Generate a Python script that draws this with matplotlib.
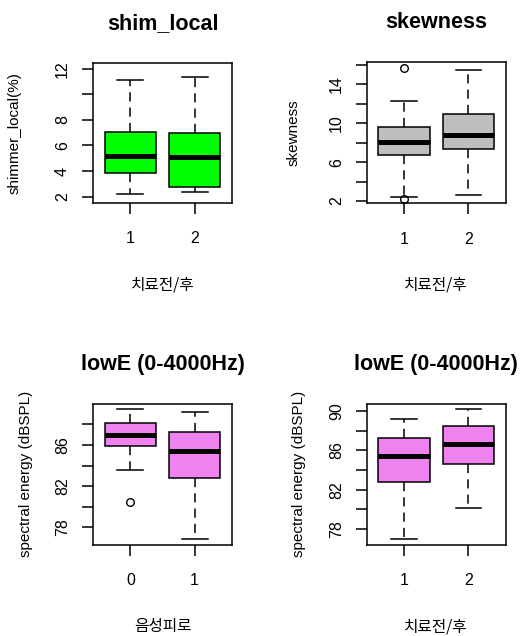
import matplotlib
matplotlib.use("Agg")
import matplotlib.pyplot as plt

plt.rcParams['font.family'] = ['Liberation Sans', 'DejaVu Sans']

# 값 (그림에서 읽은 상자그림 통계: 아래수염, Q1, 중앙값, Q3, 위수염, 이상치)
shim_whislo = [2.23, 2.33]
shim_q1 = [3.85, 2.74]
shim_med = [5.2, 5.1]
shim_q3 = [7.05, 6.95]
shim_whishi = [11.15, 11.35]
shim_fliers = [[], []]

skew_whislo = [2.44, 2.58]
skew_q1 = [6.7, 7.31]
skew_med = [8.06, 8.75]
skew_q3 = [9.6, 10.98]
skew_whishi = [12.28, 15.47]
skew_fliers = [[15.65, 2.24], []]

lowe_fat_whislo = [83.54, 76.84]
lowe_fat_q1 = [85.87, 82.76]
lowe_fat_med = [86.94, 85.45]
lowe_fat_q3 = [88.08, 87.26]
lowe_fat_whishi = [89.47, 89.15]
lowe_fat_fliers = [[80.5], []]

lowe_trt_whislo = [76.94, 80.1]
lowe_trt_q1 = [82.77, 84.6]
lowe_trt_med = [85.47, 86.7]
lowe_trt_q3 = [87.27, 88.47]
lowe_trt_whishi = [89.25, 90.2]
lowe_trt_fliers = [[], []]

grp_trt = ['1', '2']
grp_fat = ['0', '1']


def make_stats(lo, q1, med, q3, hi, fl):
    return [dict(whislo=lo[i], q1=q1[i], med=med[i], q3=q3[i], whishi=hi[i], fliers=fl[i])
            for i in range(len(med))]


W, H = 520, 636
fig = plt.figure(figsize=(W / 100, H / 100), dpi=100)


def panel(px_left, px_top, px_w, px_h, stats, color, title, ylabel, xlabel, xtl,
          ylim, yticks, ylabels, ylab_dx):
    ax = fig.add_axes([px_left / W, 1 - (px_top + px_h) / H, px_w / W, px_h / H])
    ax.bxp(stats, positions=[1, 2], widths=0.8, capwidths=0.4, patch_artist=True,
           boxprops=dict(facecolor=color, edgecolor='black', linewidth=1.1),
           medianprops=dict(color='black', linewidth=3.6, solid_capstyle='butt'),
           whiskerprops=dict(color='black', linewidth=1.1, linestyle=(0, (6, 4))),
           capprops=dict(color='black', linewidth=1.1),
           flierprops=dict(marker='o', markerfacecolor='none', markeredgecolor='black',
                           markersize=5.5, markeredgewidth=1.0))
    ax.set_xlim(0.42, 2.58)
    ax.set_ylim(*ylim)
    ax.set_xticks([1, 2])
    ax.set_xticklabels(xtl)
    ax.set_yticks(yticks)
    ax.set_yticklabels(ylabels)
    for s in ax.spines.values():
        s.set_linewidth(1.1)
    ax.tick_params(axis='both', length=8, width=1.1, labelsize=11.5, color='black')
    ax.tick_params(axis='x', pad=12.5)
    ax.tick_params(axis='y', pad=8.5)
    plt.setp(ax.get_yticklabels(), rotation=90, va='center')
    ax.set_title(title, fontsize=15.5, fontweight='bold', pad=24.5)
    ax.set_ylabel(ylabel, fontsize=11, va='center')
    ax.yaxis.set_label_coords(ylab_dx / px_w, 0.5)
    ax.set_xlabel(xlabel, fontsize=11.3, family=['Noto Sans CJK KR', 'DejaVu Sans'], va='center')
    ax.xaxis.set_label_coords(0.5, -82 / px_h)
    return ax


panel(93, 63, 139, 140,
      make_stats(shim_whislo, shim_q1, shim_med, shim_q3, shim_whishi, shim_fliers),
      '#00FF00', 'shim_local', 'shimmer_local(%)', '치료전/후', grp_trt,
      (1.5, 12.45), [2, 4, 6, 8, 10, 12], ['2', '4', '6', '8', '', '12'], -78)

panel(366.7, 62.3, 139, 141,
      make_stats(skew_whislo, skew_q1, skew_med, skew_q3, skew_whishi, skew_fliers),
      '#BEBEBE', 'skewness', 'skewness', '치료전/후', grp_trt,
      (1.76, 16.26), [2, 4, 6, 8, 10, 12, 14, 16], ['2', '', '6', '', '10', '', '14', ''], -73)

panel(93, 404, 139, 140.7,
      make_stats(lowe_fat_whislo, lowe_fat_q1, lowe_fat_med, lowe_fat_q3, lowe_fat_whishi, lowe_fat_fliers),
      '#EE82EE', 'lowE (0-4000Hz)', 'spectral energy (dBSPL)', '음성피로', grp_fat,
      (76.33, 89.97), [78, 80, 82, 84, 86, 88], ['78', '', '82', '', '86', ''], -67)

panel(366.7, 404, 139, 140.7,
      make_stats(lowe_trt_whislo, lowe_trt_q1, lowe_trt_med, lowe_trt_q3, lowe_trt_whishi, lowe_trt_fliers),
      '#EE82EE', 'lowE (0-4000Hz)', 'spectral energy (dBSPL)', '치료전/후', grp_trt,
      (76.41, 90.73), [78, 80, 82, 84, 86, 88, 90], ['78', '', '82', '', '86', '', '90'], -67.5)

fig.savefig('out.png', dpi=100, facecolor='white')
